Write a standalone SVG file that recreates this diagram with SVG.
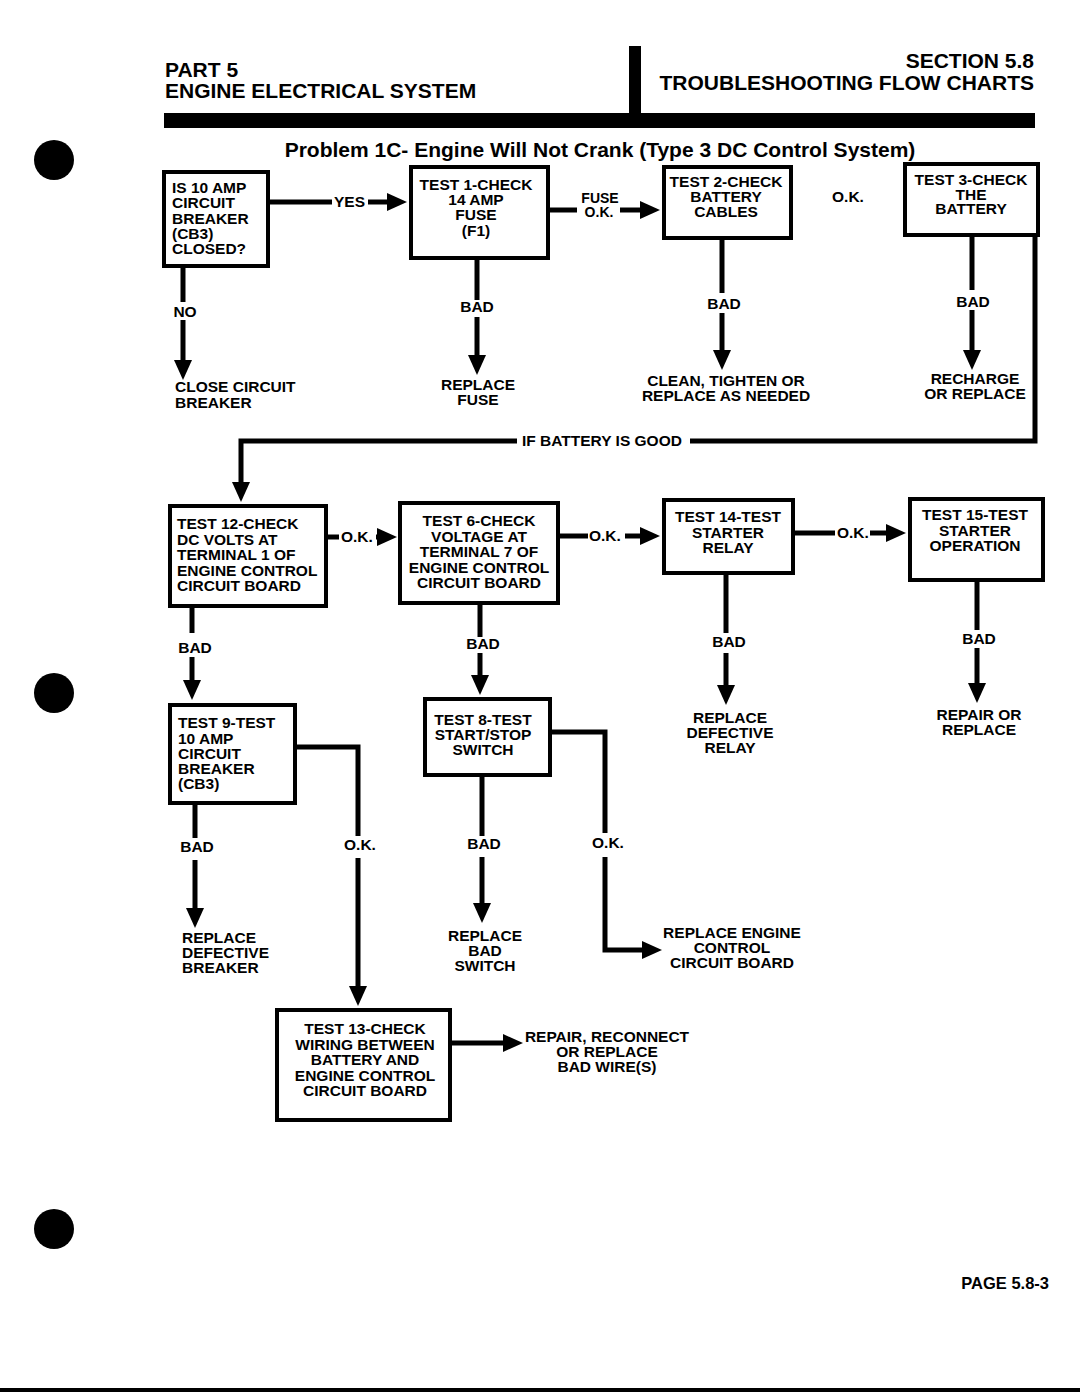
<svg xmlns="http://www.w3.org/2000/svg" width="1080" height="1392" viewBox="0 0 1080 1392">
<style>
.box{fill:#fff;stroke:#000;stroke-width:4}
.t{font-family:"Liberation Sans",Arial,Helvetica,sans-serif;font-weight:bold;font-size:15.5px;fill:#000}
.c{text-anchor:middle}
.r{text-anchor:end}
.h{font-size:21px}
.s{font-size:14px}
.ln{stroke:#000;stroke-width:5;fill:none}
.ar{marker-end:url(#ah)}
</style>
<defs>
<marker id="ah" viewBox="0 0 20 18" markerWidth="20" markerHeight="18" refX="4" refY="9" orient="auto" markerUnits="userSpaceOnUse">
<path d="M0,0 L20,9 L0,18 z" fill="#000"/>
</marker>
</defs>
<rect width="1080" height="1392" fill="#fff"/>
<g id="page">
<circle cx="54" cy="160" r="20" fill="#000"/>
<circle cx="54" cy="693" r="20" fill="#000"/>
<circle cx="54" cy="1229" r="20" fill="#000"/>
<rect x="0" y="1388" width="1080" height="4" fill="#000"/>
<rect x="629" y="46" width="12" height="70" fill="#000"/>
<rect x="164" y="113" width="871" height="15" fill="#000"/>
<text class="t h" x="165" y="77">PART 5</text>
<text class="t h" x="165" y="98">ENGINE ELECTRICAL SYSTEM</text>
<text class="t h r" x="1034" y="68">SECTION 5.8</text>
<text class="t h r" x="1034" y="90">TROUBLESHOOTING FLOW CHARTS</text>
<text class="t c" x="600" y="157" style="font-size:21px">Problem 1C- Engine Will Not Crank (Type 3 DC Control System)</text>
<text class="t r" x="1049" y="1289" style="font-size:16.5px">PAGE 5.8-3</text>
</g>
<g id="connectors">
<line class="ln" x1="270" y1="202" x2="332" y2="202"/>
<line class="ln ar" x1="368" y1="202" x2="391" y2="202"/>
<line class="ln" x1="550" y1="210" x2="577" y2="210"/>
<line class="ln ar" x1="620" y1="210" x2="644" y2="210"/>
<line class="ln" x1="183" y1="268" x2="183" y2="302"/>
<line class="ln ar" x1="183" y1="320" x2="183" y2="364"/>
<line class="ln" x1="477" y1="260" x2="477" y2="300"/>
<line class="ln ar" x1="477" y1="317" x2="477" y2="359"/>
<line class="ln" x1="722" y1="240" x2="722" y2="293"/>
<line class="ln ar" x1="722" y1="313" x2="722" y2="354"/>
<line class="ln" x1="972" y1="235" x2="972" y2="290"/>
<line class="ln ar" x1="972" y1="310" x2="972" y2="354"/>
<polyline class="ln" points="1035,235 1035,441 690,441"/>
<polyline class="ln ar" points="517,441 241,441 241,486"/>
<line class="ln" x1="328" y1="537" x2="339" y2="537"/>
<line class="ln ar" x1="376" y1="537" x2="381" y2="537"/>
<line class="ln" x1="560" y1="536" x2="588" y2="536"/>
<line class="ln ar" x1="625" y1="536" x2="644" y2="536"/>
<line class="ln" x1="795" y1="533" x2="835" y2="533"/>
<line class="ln ar" x1="870" y1="533" x2="890" y2="533"/>
<line class="ln" x1="192" y1="608" x2="192" y2="633"/>
<line class="ln ar" x1="192" y1="657" x2="192" y2="684"/>
<line class="ln" x1="480" y1="605" x2="480" y2="637"/>
<line class="ln ar" x1="480" y1="653" x2="480" y2="679"/>
<line class="ln" x1="726" y1="575" x2="726" y2="633"/>
<line class="ln ar" x1="726" y1="653" x2="726" y2="689"/>
<line class="ln" x1="977" y1="582" x2="977" y2="630"/>
<line class="ln ar" x1="977" y1="648" x2="977" y2="687"/>
<polyline class="ln" points="297,747 358,747 358,836"/>
<line class="ln ar" x1="358" y1="858" x2="358" y2="990"/>
<line class="ln" x1="195" y1="805" x2="195" y2="838"/>
<line class="ln ar" x1="195" y1="860" x2="195" y2="912"/>
<polyline class="ln" points="552,732 605,732 605,833"/>
<polyline class="ln ar" points="605,857 605,950 646,950"/>
<line class="ln" x1="482" y1="777" x2="482" y2="836"/>
<line class="ln ar" x1="482" y1="857" x2="482" y2="907"/>
<line class="ln ar" x1="452" y1="1043" x2="507" y2="1043"/>
<text class="t" x="334" y="207">YES</text>
<text class="t s c" x="600" y="203">FUSE</text>
<text class="t s c" x="599" y="217">O.K.</text>
<text class="t c" x="848" y="202">O.K.</text>
<text class="t c" x="185" y="317">NO</text>
<text class="t c" x="477" y="312">BAD</text>
<text class="t c" x="724" y="309">BAD</text>
<text class="t c" x="973" y="307">BAD</text>
<text class="t" x="522" y="446">IF BATTERY IS GOOD</text>
<text class="t" x="341" y="542">O.K.</text>
<text class="t" x="589" y="541">O.K.</text>
<text class="t" x="837" y="538">O.K.</text>
<text class="t c" x="195" y="653">BAD</text>
<text class="t c" x="483" y="649">BAD</text>
<text class="t c" x="729" y="647">BAD</text>
<text class="t c" x="979" y="644">BAD</text>
<text class="t c" x="197" y="852">BAD</text>
<text class="t c" x="360" y="850">O.K.</text>
<text class="t c" x="484" y="849">BAD</text>
<text class="t c" x="608" y="848">O.K.</text>
</g>
<g id="n-cb3-closed">
<rect class="box" x="164" y="172" width="104" height="94"/>
<text class="t" x="172" y="193">IS 10 AMP</text>
<text class="t" x="172" y="208">CIRCUIT</text>
<text class="t" x="172" y="223.5">BREAKER</text>
<text class="t" x="172" y="238.5">(CB3)</text>
<text class="t" x="172" y="253.5">CLOSED?</text>
</g>
<g id="n-test1">
<rect class="box" x="411" y="167" width="137" height="91"/>
<text class="t c" x="476" y="190">TEST 1-CHECK</text>
<text class="t c" x="476" y="205">14 AMP</text>
<text class="t c" x="476" y="220">FUSE</text>
<text class="t c" x="476" y="236">(F1)</text>
</g>
<g id="n-test2">
<rect class="box" x="664" y="167" width="127" height="71"/>
<text class="t c" x="726" y="187">TEST 2-CHECK</text>
<text class="t c" x="726" y="202">BATTERY</text>
<text class="t c" x="726" y="217">CABLES</text>
</g>
<g id="n-test3">
<rect class="box" x="905" y="164" width="133" height="71"/>
<text class="t c" x="971" y="185">TEST 3-CHECK</text>
<text class="t c" x="971" y="199.5">THE</text>
<text class="t c" x="971" y="214">BATTERY</text>
</g>
<g id="n-close-cb">
<text class="t" x="175" y="392">CLOSE CIRCUIT</text>
<text class="t" x="175" y="408">BREAKER</text>
</g>
<g id="n-replace-fuse">
<text class="t c" x="478" y="390">REPLACE</text>
<text class="t c" x="478" y="405">FUSE</text>
</g>
<g id="n-clean-cables">
<text class="t c" x="726" y="386">CLEAN, TIGHTEN OR</text>
<text class="t c" x="726" y="401">REPLACE AS NEEDED</text>
</g>
<g id="n-recharge">
<text class="t c" x="975" y="384">RECHARGE</text>
<text class="t c" x="975" y="399">OR REPLACE</text>
</g>
<g id="n-test12">
<rect class="box" x="170" y="506" width="156" height="100"/>
<text class="t" x="177" y="529">TEST 12-CHECK</text>
<text class="t" x="177" y="544.5">DC VOLTS AT</text>
<text class="t" x="177" y="560">TERMINAL 1 OF</text>
<text class="t" x="177" y="575.5">ENGINE CONTROL</text>
<text class="t" x="177" y="591">CIRCUIT BOARD</text>
</g>
<g id="n-test6">
<rect class="box" x="400" y="503" width="158" height="100"/>
<text class="t c" x="479" y="526">TEST 6-CHECK</text>
<text class="t c" x="479" y="541.5">VOLTAGE AT</text>
<text class="t c" x="479" y="557">TERMINAL 7 OF</text>
<text class="t c" x="479" y="572.5">ENGINE CONTROL</text>
<text class="t c" x="479" y="588">CIRCUIT BOARD</text>
</g>
<g id="n-test14">
<rect class="box" x="664" y="500" width="129" height="73"/>
<text class="t c" x="728" y="522">TEST 14-TEST</text>
<text class="t c" x="728" y="537.5">STARTER</text>
<text class="t c" x="728" y="553">RELAY</text>
</g>
<g id="n-test15">
<rect class="box" x="910" y="499" width="133" height="81"/>
<text class="t c" x="975" y="520">TEST 15-TEST</text>
<text class="t c" x="975" y="535.5">STARTER</text>
<text class="t c" x="975" y="551">OPERATION</text>
</g>
<g id="n-replace-relay">
<text class="t c" x="730" y="723">REPLACE</text>
<text class="t c" x="730" y="738">DEFECTIVE</text>
<text class="t c" x="730" y="753">RELAY</text>
</g>
<g id="n-repair-starter">
<text class="t c" x="979" y="720">REPAIR OR</text>
<text class="t c" x="979" y="735">REPLACE</text>
</g>
<g id="n-test9">
<rect class="box" x="170" y="705" width="125" height="98"/>
<text class="t" x="178" y="728">TEST 9-TEST</text>
<text class="t" x="178" y="743.5">10 AMP</text>
<text class="t" x="178" y="759">CIRCUIT</text>
<text class="t" x="178" y="774">BREAKER</text>
<text class="t" x="178" y="789">(CB3)</text>
</g>
<g id="n-test8">
<rect class="box" x="425" y="699" width="125" height="76"/>
<text class="t c" x="483" y="725">TEST 8-TEST</text>
<text class="t c" x="483" y="740">START/STOP</text>
<text class="t c" x="483" y="755">SWITCH</text>
</g>
<g id="n-replace-breaker">
<text class="t" x="182" y="943">REPLACE</text>
<text class="t" x="182" y="958">DEFECTIVE</text>
<text class="t" x="182" y="973">BREAKER</text>
</g>
<g id="n-replace-switch">
<text class="t c" x="485" y="941">REPLACE</text>
<text class="t c" x="485" y="956">BAD</text>
<text class="t c" x="485" y="971">SWITCH</text>
</g>
<g id="n-replace-board">
<text class="t c" x="732" y="938">REPLACE ENGINE</text>
<text class="t c" x="732" y="953">CONTROL</text>
<text class="t c" x="732" y="968">CIRCUIT BOARD</text>
</g>
<g id="n-test13">
<rect class="box" x="277" y="1010" width="173" height="110"/>
<text class="t c" x="365" y="1034">TEST 13-CHECK</text>
<text class="t c" x="365" y="1049.5">WIRING BETWEEN</text>
<text class="t c" x="365" y="1065">BATTERY AND</text>
<text class="t c" x="365" y="1080.5">ENGINE CONTROL</text>
<text class="t c" x="365" y="1096">CIRCUIT BOARD</text>
</g>
<g id="n-repair-wires">
<text class="t c" x="607" y="1042">REPAIR, RECONNECT</text>
<text class="t c" x="607" y="1057">OR REPLACE</text>
<text class="t c" x="607" y="1072">BAD WIRE(S)</text>
</g>
</svg>
